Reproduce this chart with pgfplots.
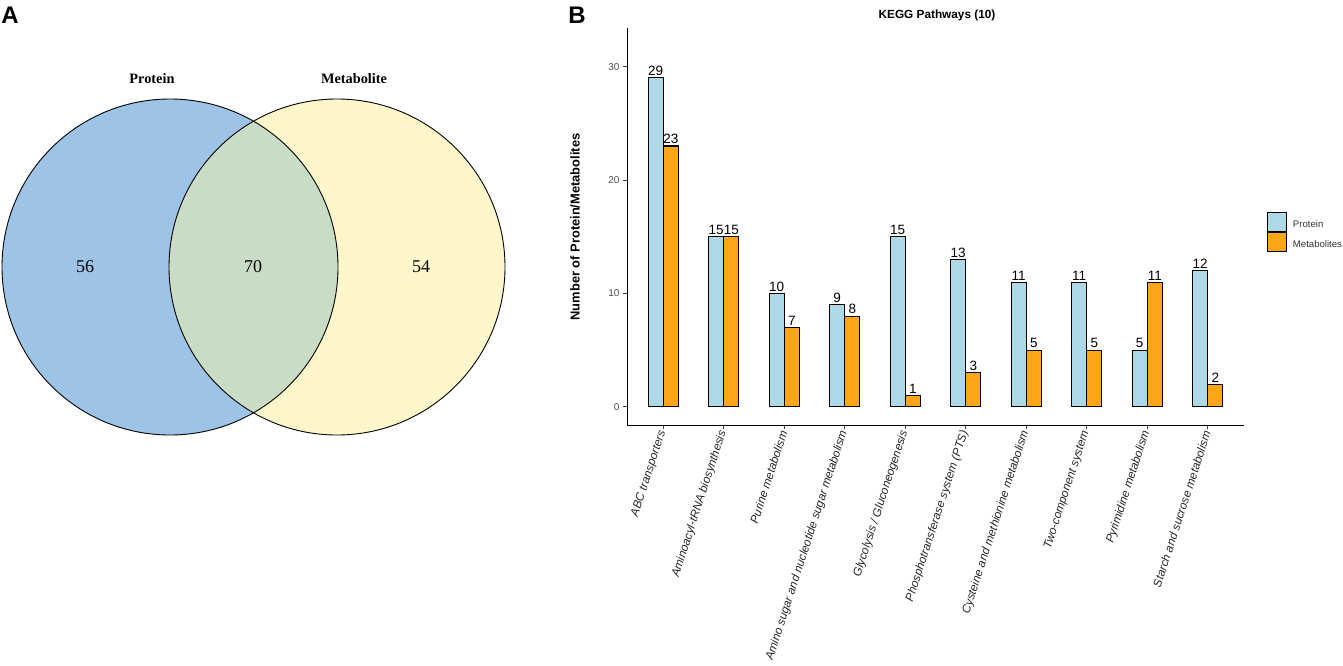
\documentclass[border=0pt]{standalone}
\usepackage{fontspec}
\setmainfont{Liberation Sans}
\newfontfamily\timesfont{Liberation Serif}
\usepackage{pgfplots}
\usepackage{pgfplotstable}
\pgfplotsset{compat=1.18}

\definecolor{vennblue}{HTML}{9DC3E6}
\definecolor{vennyellow}{HTML}{FFF6C9}
\definecolor{venngreen}{HTML}{C9DCC6}
\definecolor{protblue}{HTML}{ADD8E6}
\definecolor{metorange}{HTML}{FFA51A}
\definecolor{tickgray}{HTML}{4D4D4D}

% KEGG pathway counts, one row per pathway
\pgfplotstableread{
idx protein metab
0 29 23
1 15 15
2 10 7
3 9 8
4 15 1
5 13 3
6 11 5
7 11 5
8 5 11
9 12 2
}\kegg

\begin{document}
\begin{tikzpicture}
\path[use as bounding box] (0pt,0pt) rectangle (1343pt,-665pt);

% ---- panel A: Venn diagram
\begin{axis}[at={(0pt,-665pt)}, anchor=south west, scale only axis,
  width=520pt, height=665pt, xmin=0, xmax=520, ymin=-665, ymax=0,
  hide axis, clip=false]
\fill[vennblue] (axis cs:170,-267) circle[radius=168];
\fill[vennyellow] (axis cs:337,-267) circle[radius=168];
\begin{scope}
  \clip (axis cs:170,-267) circle[radius=168];
  \fill[venngreen] (axis cs:337,-267) circle[radius=168];
\end{scope}
\draw[line width=0.9pt] (axis cs:170,-267) circle[radius=168];
\draw[line width=0.9pt] (axis cs:337,-267) circle[radius=168];
\node[font=\timesfont\fontsize{14.3}{16}\selectfont\bfseries] at (axis cs:152,-79) {Protein};
\node[font=\timesfont\fontsize{14.3}{16}\selectfont\bfseries] at (axis cs:354,-79) {Metabolite};
\node[font=\timesfont\fontsize{18}{20}\selectfont] at (axis cs:85,-267) {56};
\node[font=\timesfont\fontsize{18}{20}\selectfont] at (axis cs:253,-267) {70};
\node[font=\timesfont\fontsize{18}{20}\selectfont] at (axis cs:421,-267) {54};
\end{axis}

\node[font=\fontsize{24}{26}\selectfont\bfseries] at (10pt,-15pt) {A};
\node[font=\fontsize{24}{26}\selectfont\bfseries] at (577pt,-15pt) {B};

% ---- panel B: grouped bars
\begin{axis}[at={(627pt,-425pt)}, anchor=south west, scale only axis,
  width=617pt, height=397pt,
  xmin=-0.6, xmax=9.6, ymin=-1.6, ymax=33.4,
  axis lines=left, axis line style={-, line width=1pt, black},
  tick align=outside, major tick length=4pt,
  tick style={line width=0.8pt, black!75},
  ytick={0,10,20,30}, xtick={0,...,9},
  xticklabels={ABC transporters, Aminoacyl-tRNA biosynthesis, Purine metabolism,
    Amino sugar and nucleotide sugar metabolism, Glycolysis / Gluconeogenesis,
    Phosphotransferase system (PTS), Cysteine and methionine metabolism,
    Two-component system, Pyrimidine metabolism, Starch and sucrose metabolism},
  xticklabel style={rotate=72, anchor=east, inner sep=2pt,
    font=\fontsize{11.7}{13}\selectfont\itshape, text=black!85},
  yticklabel style={font=\fontsize{10}{12}\selectfont, text=tickgray},
  /pgf/number format/assume math mode=true,
  ybar, bar width=0.25,
  nodes near coords,
  every node near coord/.append style={font=\fontsize{13.5}{15}\selectfont, text=black, inner sep=1.5pt},
  legend style={at={(1.032,0.542)}, anchor=north west, draw=none, fill=none,
    font=\fontsize{9.6}{12}\selectfont, text=black!80, row sep=0pt,
    /tikz/every odd column/.append style={column sep=4pt}},
  legend cell align=left,
  legend image code/.code={\draw[#1, line width=1pt] (0pt,-6.5pt) rectangle (19pt,12.5pt);},
]
\addplot[draw=black, line width=1.1pt, fill=protblue, bar shift=-0.125] table[x=idx, y=protein] {\kegg};
\addplot[draw=black, line width=1.1pt, fill=metorange, bar shift=0.125] table[x=idx, y=metab] {\kegg};
\legend{Protein, Metabolites}
\end{axis}

\node[font=\fontsize{11.8}{14}\selectfont\bfseries] at (937pt,-15pt) {KEGG Pathways (10)};
\node[rotate=90, font=\fontsize{12.9}{15}\selectfont\bfseries] at (575pt,-227pt) {Number of Protein/Metabolites};
\end{tikzpicture}
\end{document}
